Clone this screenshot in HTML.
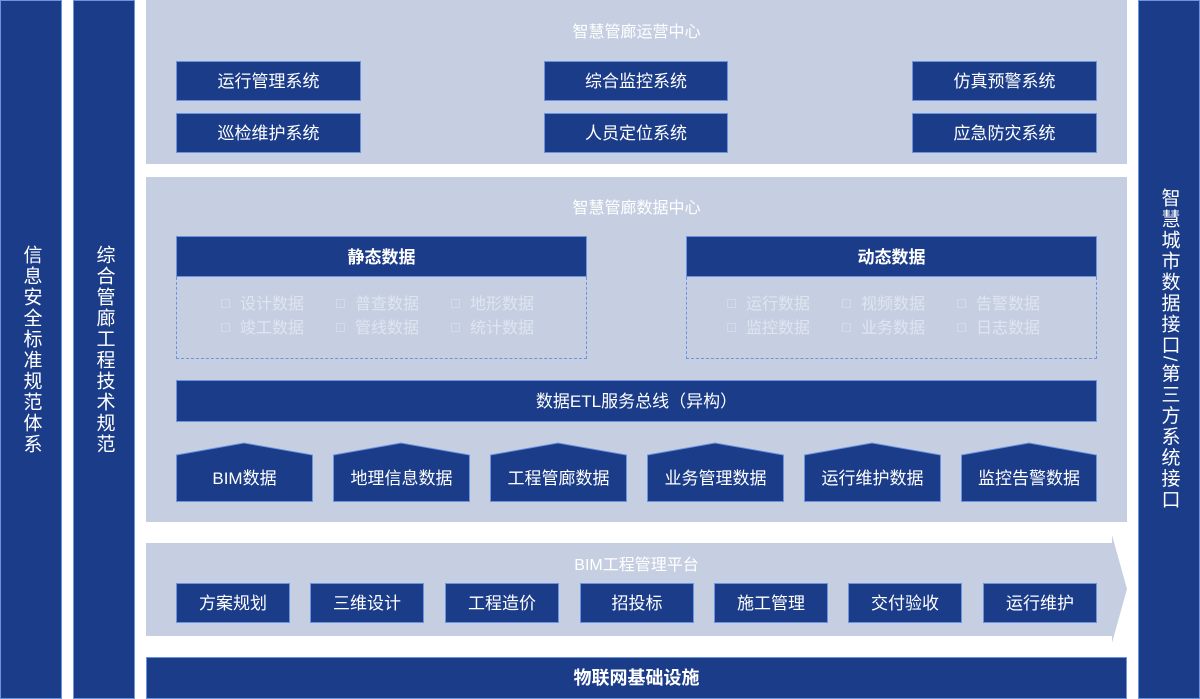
<!DOCTYPE html>
<html><head><meta charset="utf-8"><style>
*{margin:0;padding:0;box-sizing:border-box}
body{width:1200px;height:699px;background:#fff;position:relative;overflow:hidden;font-family:"Liberation Sans","Noto Sans CJK SC",sans-serif}
.d{position:absolute;background:#1b3c89;border:1px solid #6b93e0;color:#fff;display:flex;align-items:center;justify-content:center;font-size:17px;padding-bottom:3px}
.p{position:absolute;background:#c6cfe1}
.t{position:absolute;color:#fff;font-size:16px;text-align:center}
.v{writing-mode:vertical-rl;letter-spacing:2px;font-size:19px;padding-bottom:0}
.g{position:absolute;color:#dfe5f0;font-size:16px;line-height:24px}
.g span{display:inline-block;width:115px}
.g i{display:inline-block;width:9px;height:9px;border:1px solid #d3dae8;margin-right:10px;vertical-align:1px}
.dash{position:absolute;border:1px dashed #6b93e0;border-top:none}
</style></head><body>
<div class="d v" style="left:0;top:0;width:62px;height:699px">信息安全标准规范体系</div>
<div class="d v" style="left:73px;top:0;width:62px;height:699px">综合管廊工程技术规范</div>
<div class="d v" style="left:1138px;top:0;width:62px;height:699px">智慧城市数据接口/第三方系统接口</div>

<div class="p" style="left:146px;top:0;width:981px;height:164px"></div>
<div class="t" style="left:146px;top:18px;width:981px">智慧管廊运营中心</div>
<div class="d" style="left:176px;top:61px;width:185px;height:40px">运行管理系统</div>
<div class="d" style="left:544px;top:61px;width:184px;height:40px">综合监控系统</div>
<div class="d" style="left:912px;top:61px;width:185px;height:40px">仿真预警系统</div>
<div class="d" style="left:176px;top:113px;width:185px;height:40px">巡检维护系统</div>
<div class="d" style="left:544px;top:113px;width:184px;height:40px">人员定位系统</div>
<div class="d" style="left:912px;top:113px;width:185px;height:40px">应急防灾系统</div>

<div class="p" style="left:146px;top:177px;width:981px;height:345px"></div>
<div class="t" style="left:146px;top:194px;width:981px">智慧管廊数据中心</div>
<div class="d" style="left:176px;top:236px;width:411px;height:41px;font-weight:bold">静态数据</div>
<div class="dash" style="left:176px;top:277px;width:411px;height:82px"></div>
<div class="g" style="left:221px;top:293px"><span><i></i>设计数据</span><span><i></i>普查数据</span><span><i></i>地形数据</span><br><span><i></i>竣工数据</span><span><i></i>管线数据</span><span><i></i>统计数据</span></div>
<div class="d" style="left:686px;top:236px;width:411px;height:41px;font-weight:bold">动态数据</div>
<div class="dash" style="left:686px;top:277px;width:411px;height:82px"></div>
<div class="g" style="left:727px;top:293px"><span><i></i>运行数据</span><span><i></i>视频数据</span><span><i></i>告警数据</span><br><span><i></i>监控数据</span><span><i></i>业务数据</span><span><i></i>日志数据</span></div>
<div class="d" style="left:176px;top:380px;width:921px;height:42px">数据ETL服务总线（异构）</div>

<svg style="position:absolute;left:0;top:0" width="1200" height="699">
<g fill="#1b3c89" stroke="#6b93e0" stroke-width="1">
<polygon points="176.5,455 244,443 312.5,455 312.5,501.5 176.5,501.5"/>
<polygon points="333.5,455 401,443 469.5,455 469.5,501.5 333.5,501.5"/>
<polygon points="490.5,455 558,443 626.5,455 626.5,501.5 490.5,501.5"/>
<polygon points="647.5,455 715,443 783.5,455 783.5,501.5 647.5,501.5"/>
<polygon points="804.5,455 872,443 940.5,455 940.5,501.5 804.5,501.5"/>
<polygon points="961.5,455 1029,443 1096.5,455 1096.5,501.5 961.5,501.5"/>
</g>
<polygon fill="#c6cfe1" points="146,543 1112,543 1112,535 1127,589 1112,643 1112,636 146,636"/>
</svg>
<div class="t" style="left:176px;top:464px;width:137px;font-size:17px">BIM数据</div>
<div class="t" style="left:333px;top:464px;width:137px;font-size:17px">地理信息数据</div>
<div class="t" style="left:490px;top:464px;width:137px;font-size:17px">工程管廊数据</div>
<div class="t" style="left:647px;top:464px;width:137px;font-size:17px">业务管理数据</div>
<div class="t" style="left:804px;top:464px;width:137px;font-size:17px">运行维护数据</div>
<div class="t" style="left:961px;top:464px;width:136px;font-size:17px">监控告警数据</div>

<div class="t" style="left:146px;top:551px;width:981px">BIM工程管理平台</div>
<div class="d" style="left:176px;top:583px;width:114px;height:40px">方案规划</div>
<div class="d" style="left:310px;top:583px;width:114px;height:40px">三维设计</div>
<div class="d" style="left:445px;top:583px;width:114px;height:40px">工程造价</div>
<div class="d" style="left:580px;top:583px;width:114px;height:40px">招投标</div>
<div class="d" style="left:714px;top:583px;width:114px;height:40px">施工管理</div>
<div class="d" style="left:848px;top:583px;width:114px;height:40px">交付验收</div>
<div class="d" style="left:983px;top:583px;width:114px;height:40px">运行维护</div>

<div class="d" style="left:146px;top:657px;width:981px;height:42px;font-weight:bold;font-size:18px">物联网基础设施</div>
</body></html>
